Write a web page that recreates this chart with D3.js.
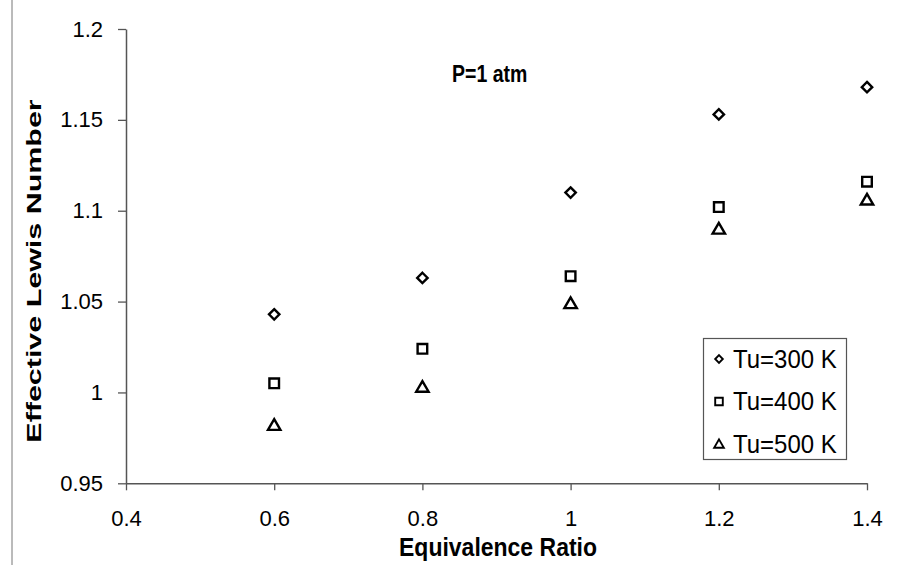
<!DOCTYPE html>
<html>
<head>
<meta charset="utf-8">
<script src="https://cdn.jsdelivr.net/npm/d3@7"></script>
<style>
  html, body { margin: 0; padding: 0; background: #fff; }
  svg { display: block; font-family: "Liberation Sans", Arial, sans-serif; }
</style>
</head>
<body>
<svg id="chart" width="897" height="565"></svg>
<script>
// Equivalence ratios and effective Lewis numbers at three unburned temperatures
const phi = [0.6, 0.8, 1.0, 1.2, 1.4];
const le300 = [1.043, 1.063, 1.110, 1.153, 1.168];
const le400 = [1.005, 1.024, 1.064, 1.102, 1.116];
const le500 = [0.982, 1.003, 1.049, 1.090, 1.106];
const seriesNames = ["Tu=300 K", "Tu=400 K", "Tu=500 K"];
const xTicks = [0.4, 0.6, 0.8, 1.0, 1.2, 1.4];
const xTickLabels = ["0.4", "0.6", "0.8", "1", "1.2", "1.4"];
const yTicks = [0.95, 1.0, 1.05, 1.1, 1.15, 1.2];
const yTickLabels = ["0.95", "1", "1.05", "1.1", "1.15", "1.2"];

const svg = d3.select("#chart");
const x = d3.scaleLinear().domain([0.4, 1.4]).range([126, 867]);
const y = d3.scaleLinear().domain([0.95, 1.2]).range([483.3, 29]);

// page edge line on the left
svg.append("line").attr("x1", 12).attr("x2", 12).attr("y1", 0).attr("y2", 565)
  .attr("stroke", "#777").attr("stroke-width", 1);

// axes
const xAxis = d3.axisBottom(x).tickValues(xTicks)
  .tickFormat((d, i) => xTickLabels[i]).tickSize(7).tickPadding(20).tickSizeOuter(0);
const yAxis = d3.axisLeft(y).tickValues(yTicks)
  .tickFormat((d, i) => yTickLabels[i]).tickSize(8).tickPadding(15).tickSizeOuter(0);

const gx = svg.append("g").attr("transform", `translate(0,${y(0.95)})`).call(xAxis);
const gy = svg.append("g").attr("transform", `translate(${x(0.4)},0)`).call(yAxis);
[gx, gy].forEach(g => {
  g.select(".domain").attr("stroke", "#555").attr("stroke-width", 1.5);
  g.selectAll(".tick line").attr("stroke", "#555").attr("stroke-width", 1.3);
  g.selectAll(".tick text").attr("fill", "#000").attr("font-size", 22)
    .attr("font-family", "Liberation Sans, Arial, sans-serif");
});

// titles (type is drawn slightly tall, as in the printed figure)
svg.append("text").attr("transform", "translate(452,82) scale(1,1.22)")
  .attr("font-size", 19.5).attr("font-weight", "bold").text("P=1 atm");
svg.append("text").attr("transform", "translate(498,556) scale(1,1.15)")
  .attr("text-anchor", "middle").attr("font-size", 23).attr("font-weight", "bold")
  .text("Equivalence Ratio");
svg.append("text").attr("transform", "translate(40.5,271) rotate(-90) scale(1.45,1)")
  .attr("text-anchor", "middle").attr("font-size", 21).attr("font-weight", "bold")
  .text("Effective Lewis Number");

// marker shapes
function markerPath(kind, s) {
  if (kind === 0) return `M0,${-s}L${s},0L0,${s}L${-s},0Z`;
  if (kind === 1) return `M${-s},${-s}H${s}V${s}H${-s}Z`;
  const h = s * 1.1;
  return `M0,${-h}L${s * 1.15},${h * 0.8}H${-s * 1.15}Z`;
}

const series = [le300, le400, le500];
series.forEach((vals, k) => {
  const size = k === 0 ? 5.2 : (k === 1 ? 4.8 : 5.4);
  svg.append("g").selectAll("path").data(vals).join("path")
    .attr("transform", (d, i) => `translate(${x(phi[i])},${y(d)})`)
    .attr("d", markerPath(k, size))
    .attr("fill", "none").attr("stroke", "#000").attr("stroke-width", 2.4);
});

// legend
const lg = svg.append("g");
lg.append("rect").attr("x", 703.5).attr("y", 338.5).attr("width", 143).attr("height", 121)
  .attr("fill", "#fff").attr("stroke", "#555").attr("stroke-width", 1.2);
const legendY = [358, 400.5, 443];
seriesNames.forEach((name, k) => {
  lg.append("path").attr("transform", `translate(719,${legendY[k] + 1})`)
    .attr("d", markerPath(k, k === 2 ? 4.2 : 3.8))
    .attr("fill", "none").attr("stroke", "#000").attr("stroke-width", 1.9);
  lg.append("text").attr("transform", `translate(733,${legendY[k]}) scale(1,1.1)`)
    .attr("dy", "0.36em").attr("font-size", 24).text(name);
});
</script>
</body>
</html>
